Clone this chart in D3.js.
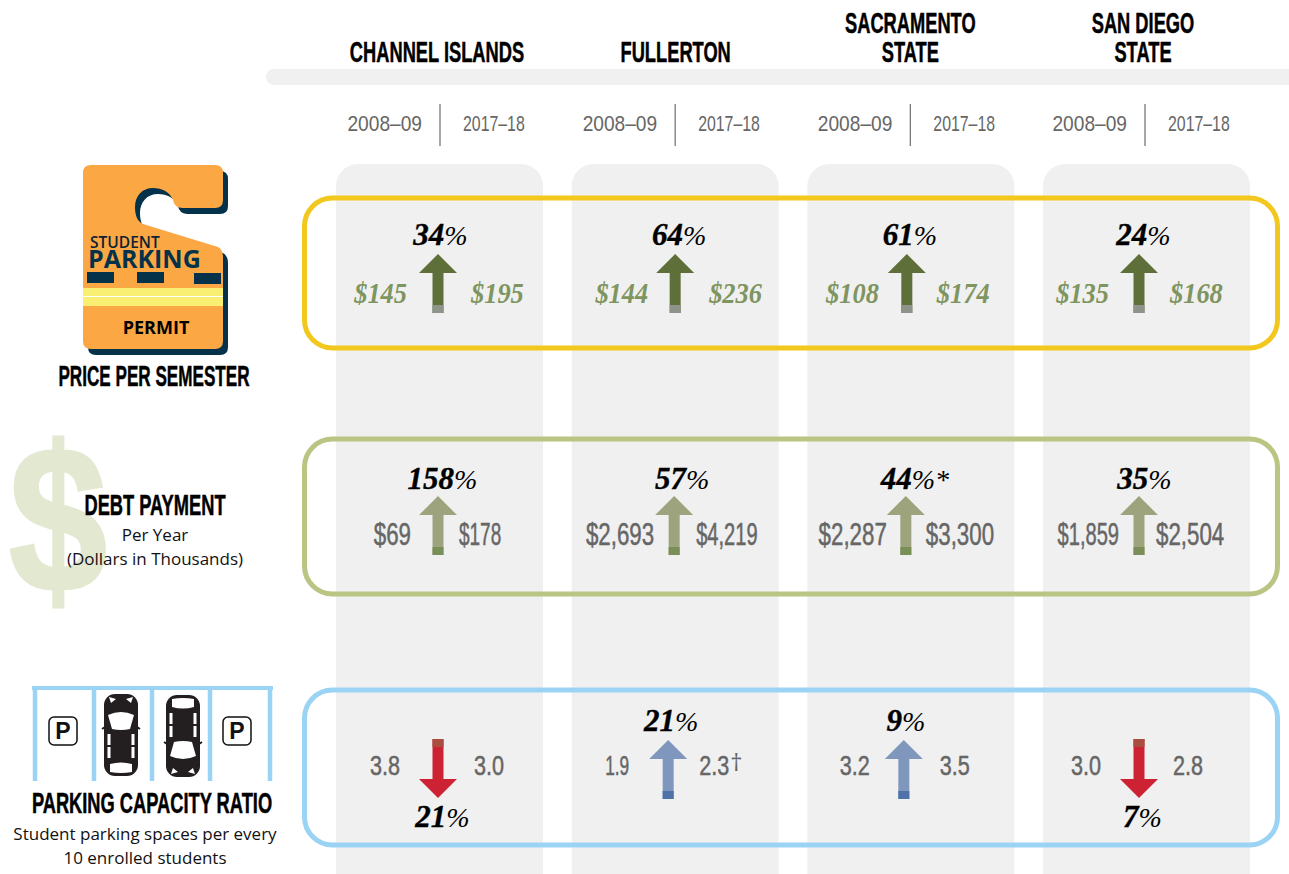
<!DOCTYPE html>
<html>
<head>
<meta charset="utf-8">
<script src="https://cdn.jsdelivr.net/npm/d3@7/dist/d3.min.js"></script>
<style>
  html, body { margin: 0; padding: 0; background: #fff; overflow: hidden; }
</style>
</head>
<body>
<div id="chart"></div>
<script>
//Data
var colleges = ["CHANNEL ISLANDS", "FULLERTON", "SACRAMENTO STATE", "SAN DIEGO STATE"];
var years = ["2008–09", "2017–18"];
var rows = ["price", "debt", "capacity"];

var priceBefore = ["$145", "$144", "$108", "$135"];
var priceAfter = ["$195", "$236", "$174", "$168"];
var priceChange = [34, 64, 61, 24];

var debtBefore = ["$69", "$2,693", "$2,287", "$1,859"];
var debtAfter = ["$178", "$4,219", "$3,300", "$2,504"];
var debtChange = [158, 57, 44, 35];

var capacityBefore = ["3.8", "1.9", "3.2", "3.0"];
var capacityAfter = ["3.0", "2.3", "3.5", "2.8"];
var capacityChange = [-21, 21, 9, -7];

//footnote marks, keyed by row and college
var changeNotes = { "debt2": "*" };
var afterNotes = { "capacity1": "†" };

//Define fonts
var bebas = "'Liberation Sans',sans-serif";
var serif = "'Liberation Serif',serif";
var sans = "'Open Sans','Noto Sans',sans-serif";

//Define SVG
var svg = d3.select("div#chart").append("svg")
    .attr("width", 1289)
    .attr("height", 874);

//Define Scales
var x = d3.scalePoint().domain(colleges).range([439.5, 1146.5]);
var boxTop = d3.scaleOrdinal().domain(rows).range([198, 439, 690]);
var boxColor = d3.scaleOrdinal().domain(rows).range(["#f2c81e", "#b9c583", "#9bd3f5"]);

//Per row layout
var layout = {
    price: {
        pctBase: 245, arrowTop: 254, valueBase: 303,
        arrowNudge: [-1.5, 0, -4, -7.5], pctNudge: [1, 4, -1, -3],
        leftGap: [31, 27, 28, 30], rightGap: [33, 34, 30, 31]
    },
    debt: {
        pctBase: 489, arrowTop: 496, valueBase: 545,
        arrowNudge: [-1.5, -1, -5, -7.5], pctNudge: [3, 7, 4, -2],
        leftGap: [27, 20, 19, 20], rightGap: [21, 22, 20, 17]
    },
    capacity: {
        pctBase: 827, arrowTop: 739, valueBase: 775,
        arrowNudge: [-1.5, -7, -7, -7.5], pctNudge: [3, -4, -5, -4],
        leftGap: [38, 39, 34, 38], rightGap: [36, 31, 36, 34]
    }
};
var capacityUpPctBase = 731;

//squeeze a text down to a share of its natural width, this gets us close to the poster face
//(the 1 in that face is as thin as an I, so texts with ones come out shorter)
function condense(sel, k) {
    sel.each(function() {
        var s = d3.select(this).text();
        var ones = s.split("1").length - 1;
        var len = this.getComputedTextLength() * k * (1 - 0.6 * ones / s.length);
        d3.select(this).attr("textLength", len).attr("lengthAdjust", "spacingAndGlyphs");
    });
    return sel;
}

//Column panels
svg.selectAll(".panel")
    .data(colleges)
    .enter().append("rect")
    .attr("class", "panel")
    .attr("x", function(d) { return x(d) - 103.5; })
    .attr("y", 164)
    .attr("width", 207)
    .attr("height", 760)
    .attr("rx", 22)
    .attr("fill", "#f0f0f0");

//Header bar
svg.append("rect")
    .attr("x", 266).attr("y", 69)
    .attr("width", 1060).attr("height", 16)
    .attr("rx", 8)
    .attr("fill", "#f0f0f0");

//College names
var nameLines = d3.scaleOrdinal().domain(colleges)
    .range([["CHANNEL ISLANDS"], ["FULLERTON"], ["SACRAMENTO", "STATE"], ["SAN DIEGO", "STATE"]]);
var nameNudge = d3.scaleOrdinal().domain(colleges).range([-2.5, 0.5, -0.5, -3.5]);

function heavy(sel, color) {
    sel.attr("stroke", color).attr("stroke-width", 0.5);
}

colleges.forEach(function(c) {
    var lines = nameLines(c);
    lines.forEach(function(line, i) {
        svg.append("text")
            .attr("x", x(c) + nameNudge(c))
            .attr("y", 62 - (lines.length - 1 - i) * 29)
            .attr("text-anchor", "middle")
            .attr("font-family", bebas)
            .attr("font-weight", "bold")
            .attr("font-size", 29)
            .attr("fill", "#000")
            .text(line)
            .call(condense, 0.63)
            .call(heavy, "#000");
    });
});

//Year labels and dividers
colleges.forEach(function(c, i) {
    var mid = x(c) + [0.5, 0, -0.5, -1.5][i];
    svg.append("line")
        .attr("x1", mid).attr("x2", mid)
        .attr("y1", 104).attr("y2", 146)
        .attr("stroke", "#777")
        .attr("stroke-width", 1.3);
    years.forEach(function(y, j) {
        svg.append("text")
            .attr("x", j == 0 ? mid - 18 : mid + 23)
            .attr("y", 131)
            .attr("text-anchor", j == 0 ? "end" : "start")
            .attr("font-family", bebas)
            .attr("font-size", 22)
            .attr("fill", "#666")
            .text(y)
            .call(condense, 0.87);
    });
});

//Row boxes
svg.selectAll(".box")
    .data(rows)
    .enter().append("rect")
    .attr("class", "box")
    .attr("x", 304.5)
    .attr("y", function(d) { return boxTop(d); })
    .attr("width", 973)
    .attr("height", function(d) { return d == "price" ? 150 : 155; })
    .attr("rx", 28)
    .attr("fill", "none")
    .attr("stroke", function(d) { return boxColor(d); })
    .attr("stroke-width", 5);

//Arrow shape, pointing up, origin at the tip
var arrowLine = d3.line();
var arrowShape = [[0, 0], [19, 19], [5.5, 19], [5.5, 59], [-5.5, 59], [-5.5, 19], [-19, 19]];

function drawArrow(cx, top, up, fill, base) {
    var g = svg.append("g")
        .attr("transform", up
            ? "translate(" + cx + "," + top + ")"
            : "translate(" + cx + "," + (top + 59) + ") rotate(180)");
    g.append("path")
        .attr("d", arrowLine(arrowShape) + "Z")
        .attr("fill", fill);
    g.append("rect")
        .attr("x", -5.5).attr("y", 51)
        .attr("width", 11).attr("height", 8)
        .attr("fill", base);
}

function arrowColors(row, up) {
    if (row == "price") return ["#5f6f3a", "#8f948a"];
    if (row == "debt") return ["#9da37d", "#7a8f57"];
    return up ? ["#7f97bd", "#4f73a8"] : ["#cd2234", "#a94e3e"];
}

//Draw one row of cells
function drawRow(row, before, after, change) {
    var l = layout[row];
    colleges.forEach(function(c, i) {
        var up = change[i] > 0;
        var cx = x(c) + l.arrowNudge[i];
        var col = arrowColors(row, up);
        drawArrow(cx, l.arrowTop + (row == "capacity" && up ? 1 : 0), up, col[0], col[1]);

        //percent label
        var pct = svg.append("text")
            .attr("x", x(c) + l.pctNudge[i])
            .attr("y", row == "capacity" && up ? capacityUpPctBase : l.pctBase)
            .attr("text-anchor", "middle")
            .attr("font-family", serif)
            .attr("font-style", "italic")
            .attr("font-size", 31)
            .attr("fill", "#000");
        pct.append("tspan").attr("font-weight", "bold").attr("stroke", "#000").attr("stroke-width", 0.4).text(Math.abs(change[i]));
        pct.append("tspan").attr("font-size", 28).text("%");
        if (changeNotes[row + i]) pct.append("tspan").attr("font-size", 28).text(changeNotes[row + i]);

        //before and after values
        [[before[i], -l.leftGap[i], "end"], [after[i], l.rightGap[i], "start"]].forEach(function(v, j) {
            var t = svg.append("text")
                .attr("x", cx + v[1])
                .attr("y", l.valueBase)
                .attr("text-anchor", v[2]);
            if (row == "price") {
                t.attr("font-family", serif)
                    .attr("font-style", "italic")
                    .attr("font-weight", "bold")
                    .attr("font-size", 29)
                    .attr("fill", "#7f9560")
                    .text(v[0]);
                t.attr("textLength", t.node().getComputedTextLength() * 0.91).attr("lengthAdjust", "spacingAndGlyphs");
            } else {
                t.attr("font-family", bebas)
                    .attr("font-size", row == "debt" ? 31 : 27)
                    .attr("fill", "#666")
                    .text(v[0])
                    .call(condense, row == "debt" ? 0.72 : 0.8)
                    .call(heavy, "#666");
            }
            if (j == 1 && afterNotes[row + i]) {
                svg.append("text")
                    .attr("x", cx + v[1] + (+t.attr("textLength")) + 1)
                    .attr("y", l.valueBase - 4)
                    .attr("font-family", sans)
                    .attr("font-size", 24)
                    .attr("fill", "#666")
                    .text(afterNotes[row + i]);
            }
        });
    });
}

drawRow("price", priceBefore, priceAfter, priceChange);
drawRow("debt", debtBefore, debtAfter, debtChange);
drawRow("capacity", capacityBefore, capacityAfter, capacityChange);

//Permit hang tag
var tagPath = "M91,165 L215,165 Q223,165 223,173 L223,200 Q223,208 215,208 L182,208 Q174,207 173,200 " +
    "C170,192 162,188 153,188 C142,188 135,196 135,207 C135,215 137,221 143,224 L218,247 Q223,250 223,257 " +
    "L223,341 Q223,349 215,349 L91,349 Q83,349 83,341 L83,173 Q83,165 91,165 Z";
var tag = svg.append("g");
tag.append("path").attr("d", tagPath).attr("transform", "translate(5,6)").attr("fill", "#04324a");
tag.append("path").attr("d", tagPath).attr("fill", "#fba744");
tag.append("rect").attr("x", 83).attr("y", 288).attr("width", 140).attr("height", 18).attr("fill", "#f9ef73");
tag.append("rect").attr("x", 83).attr("y", 296).attr("width", 140).attr("height", 1).attr("fill", "#fff");
[[87, 272], [137, 272], [194, 273]].forEach(function(p) {
    tag.append("rect").attr("x", p[0]).attr("y", p[1]).attr("width", 27).attr("height", 11).attr("fill", "#04324a");
});
tag.append("text").attr("x", 90).attr("y", 248)
    .attr("font-family", sans).attr("font-weight", 600).attr("font-size", 15.5).attr("fill", "#0b2233")
    .text("STUDENT");
tag.append("text").attr("x", 88).attr("y", 268)
    .attr("font-family", sans).attr("font-weight", "bold").attr("font-size", 25).attr("fill", "#04324a")
    .text("PARKING");
tag.append("text").attr("x", 156).attr("y", 334).attr("text-anchor", "middle")
    .attr("font-family", sans).attr("font-weight", "bold").attr("font-size", 18).attr("fill", "#000")
    .text("PERMIT");

//Dollar sign
var dollar = svg.append("text")
    .attr("x", 58).attr("y", 592)
    .attr("text-anchor", "middle")
    .attr("font-family", "'Liberation Sans',sans-serif")
    .attr("font-weight", "bold")
    .attr("font-size", 208)
    .attr("fill", "#e3e8d1")
    .attr("stroke", "#e3e8d1")
    .attr("stroke-width", 3)
    .text("$");
dollar.attr("textLength", dollar.node().getComputedTextLength() * 0.85).attr("lengthAdjust", "spacingAndGlyphs");

//Row titles on the left
function rowTitle(label, cx, y, k) {
    svg.append("text")
        .attr("x", cx).attr("y", y)
        .attr("text-anchor", "middle")
        .attr("font-family", bebas)
        .attr("font-weight", "bold")
        .attr("font-size", 29)
        .attr("fill", "#000")
        .text(label)
        .call(condense, k)
        .call(heavy, "#000");
}
function rowNote(label, cx, y) {
    svg.append("text")
        .attr("x", cx).attr("y", y)
        .attr("text-anchor", "middle")
        .attr("font-family", sans)
        .attr("font-size", 17)
        .attr("fill", "#111")
        .text(label);
}
rowTitle("PRICE PER SEMESTER", 154, 386, 0.59);
rowTitle("DEBT PAYMENT", 155, 515, 0.63);
rowNote("Per Year", 155, 541);
rowNote("(Dollars in Thousands)", 155, 565);
rowTitle("PARKING CAPACITY RATIO", 152, 813, 0.63);
rowNote("Student parking spaces per every", 145, 840);
rowNote("10 enrolled students", 145, 864);

//Parking lot icon
var lot = svg.append("g").attr("fill", "none").attr("stroke", "#9bd3f5");
lot.append("line").attr("x1", 32).attr("x2", 273).attr("y1", 688).attr("y2", 688).attr("stroke-width", 4);
[35, 94, 152, 210, 270].forEach(function(px) {
    lot.append("line").attr("x1", px).attr("x2", px).attr("y1", 686).attr("y2", 781).attr("stroke-width", 4.5);
});

function parkingSign(px) {
    svg.append("rect").attr("x", px).attr("y", 717).attr("width", 28).attr("height", 28).attr("rx", 5)
        .attr("fill", "#fff").attr("stroke", "#111").attr("stroke-width", 1.5);
    svg.append("text").attr("x", px + 14).attr("y", 739).attr("text-anchor", "middle")
        .attr("font-family", "'Liberation Sans',sans-serif").attr("font-weight", "bold")
        .attr("font-size", 23).attr("fill", "#111").text("P");
}
parkingSign(49);
parkingSign(223);

//Car seen from above, front is up
function car(cx, cy, angle) {
    var g = svg.append("g").attr("transform", "translate(" + cx + "," + cy + ") rotate(" + angle + ")");
    g.append("rect").attr("x", -17).attr("y", -41).attr("width", 34).attr("height", 82).attr("rx", 11).attr("fill", "#231f20");
    g.append("path").attr("d", "M-16,-8 L-19,-6 M16,-8 L19,-6").attr("stroke", "#231f20").attr("stroke-width", 2);
    //windscreen
    g.append("path").attr("d", "M-13,-20 Q0,-26 13,-20 L9,-6 Q0,-4 -9,-6 Z").attr("fill", "#fff");
    //rear window
    g.append("path").attr("d", "M-11,29 Q0,26 11,29 L11,37 Q0,39 -11,37 Z").attr("fill", "#fff");
    //side windows
    [-1, 1].forEach(function(s) {
        g.append("rect").attr("x", s > 0 ? 10.5 : -13.5).attr("y", -1).attr("width", 3).attr("height", 11).attr("fill", "#fff");
        g.append("rect").attr("x", s > 0 ? 10.5 : -13.5).attr("y", 12).attr("width", 3).attr("height", 11).attr("fill", "#fff");
        //headlights
        g.append("path").attr("d", "M" + (s * 5) + ",-36 L" + (s * 12) + ",-38 L" + (s * 10) + ",-32 Z").attr("fill", "#fff");
    });
}
car(121, 735, 0);
car(183, 736, 180);
</script>
</body>
</html>
